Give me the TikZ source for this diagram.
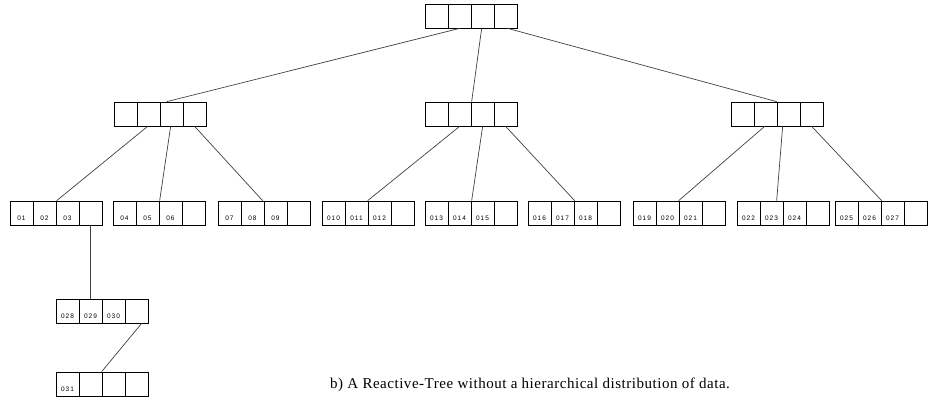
\documentclass[tikz,border=0pt]{standalone}
\usepackage{fontspec}
\newfontfamily\capfont[LetterSpace=3.5]{Liberation Serif}
\newfontfamily\cellfont[LetterSpace=15]{Liberation Sans}
\usepackage{tikz}
\usetikzlibrary{positioning}

\newcommand{\cells}[4]{\makebox[23pt]{#1}\makebox[23pt]{#2}\makebox[23pt]{#3}\makebox[23pt]{#4}}

\begin{document}
\begin{tikzpicture}[
x=1pt, y=-1pt,
rbox/.style={draw, line width=0.7pt, minimum width=92pt, minimum height=24pt, inner sep=0pt,
  text height=14pt, text depth=0pt, font=\cellfont\fontsize{6.5}{7}\selectfont,
  path picture={\foreach \k in {1,2,3}
    \draw[line width=0.7pt] ([xshift=\k*23pt]path picture bounding box.north west) -- ([xshift=\k*23pt]path picture bounding box.south west);}},
link/.style={draw=black!75, line width=0.7pt},
]
\useasboundingbox (0,0) rectangle (928,400);

\node[rbox] (root) at (471,16) {\cells{}{}{}{}};

\node[rbox] (nl) at (160,114) {\cells{}{}{}{}};
\node[rbox] (nm) at (471,114) {\cells{}{}{}{}};
\node[rbox] (nr) at (777,114) {\cells{}{}{}{}};

\node[rbox] (l1) at (56,213) {\cells{01}{02}{03}{}};
\node[rbox] (l2) at (159,213) {\cells{04}{05}{06}{}};
\node[rbox] (l3) at (264,213) {\cells{07}{08}{09}{}};
\node[rbox] (l4) at (368,213) {\cells{010}{011}{012}{}};
\node[rbox] (l5) at (471,213) {\cells{013}{014}{015}{}};
\node[rbox] (l6) at (574,213) {\cells{016}{017}{018}{}};
\node[rbox] (l7) at (679,213) {\cells{019}{020}{021}{}};
\node[rbox] (l8) at (783,213) {\cells{022}{023}{024}{}};
\node[rbox] (l9) at (881,213) {\cells{025}{026}{027}{}};

\node[rbox] (l10) at (102,311) {\cells{028}{029}{030}{}};
\node[rbox] (l11) at (102,384) {\cells{031}{}{}{}};

\node[font=\capfont\fontsize{15}{17}\selectfont] (cap) at (530,385) {b) A Reactive-Tree without a hierarchical distribution of data.};

\path[link]
([xshift=35pt]root.south west) edge ([xshift=53pt]nl.north west)
([xshift=57pt]root.south west) edge ([xshift=47pt]nm.north west)
([xshift=83pt]root.south west) edge ([xshift=46pt]nr.north west)
([xshift=34pt]nl.south west) edge ([xshift=47pt]l1.north west)
([xshift=57pt]nl.south west) edge ([xshift=47pt]l2.north west)
([xshift=81pt]nl.south west) edge ([xshift=45pt]l3.north west)
([xshift=35pt]nm.south west) edge ([xshift=46pt]l4.north west)
([xshift=58pt]nm.south west) edge ([xshift=47pt]l5.north west)
([xshift=81pt]nm.south west) edge ([xshift=47pt]l6.north west)
([xshift=34pt]nr.south west) edge ([xshift=46pt]l7.north west)
([xshift=52pt]nr.south west) edge ([xshift=40pt]l8.north west)
([xshift=81pt]nr.south west) edge ([xshift=47pt]l9.north west)
([xshift=81pt]l1.south west) edge ([xshift=35pt]l10.north west)
([xshift=86pt]l10.south west) edge ([xshift=46pt]l11.north west)
;
\end{tikzpicture}
\end{document}
